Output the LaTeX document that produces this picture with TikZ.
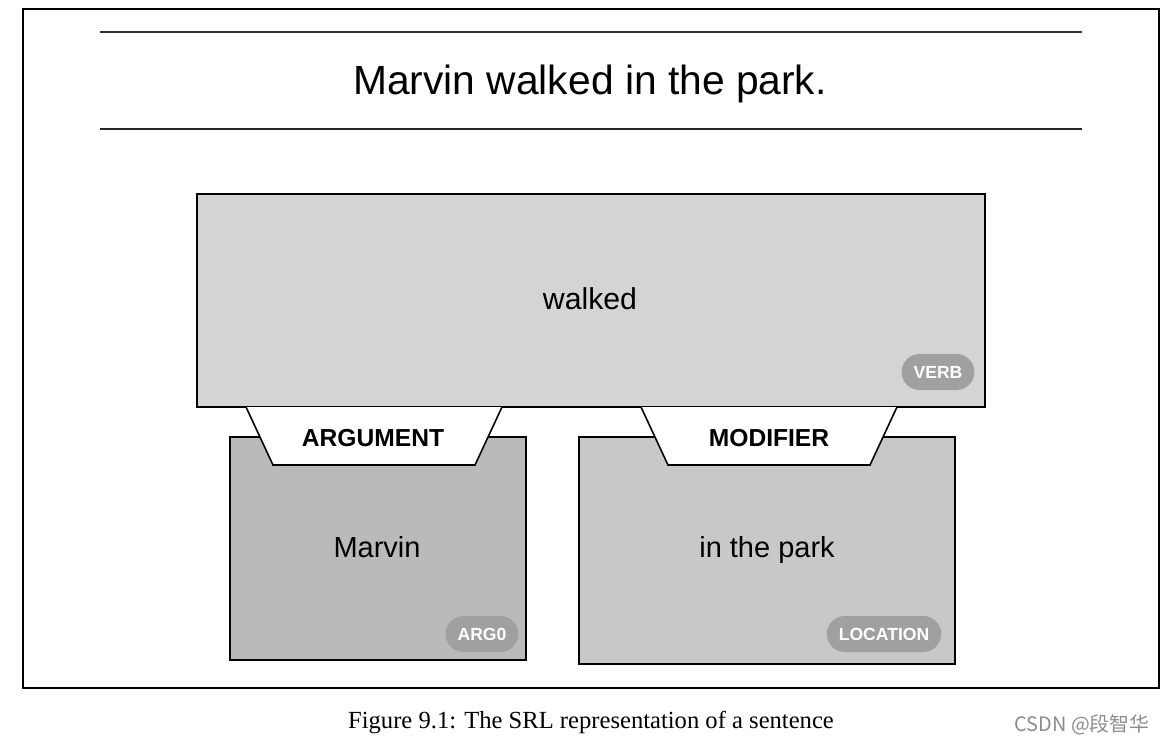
\documentclass[tikz,border=0pt]{standalone}
\usepackage{fontspec}
\setmainfont{Liberation Sans}
\newfontfamily\capfont{Liberation Serif}
\newfontfamily\cjk{Noto Sans CJK SC}
\definecolor{verbgray}{HTML}{D4D4D4}
\definecolor{arggray}{HTML}{BABABA}
\definecolor{modgray}{HTML}{C8C8C8}
\definecolor{badgegray}{HTML}{A0A0A0}
\tikzset{
  rolebox/.style={draw=black, line width=0.9pt},
  badge/.style={fill=badgegray, text=white, font=\bfseries\fontsize{10}{12}\selectfont,
    rounded corners=0.36cm, minimum height=0.72cm, inner xsep=0.24cm},
  tag/.style={draw=black, fill=white, line width=0.9pt},
  word/.style={font=\fontsize{16.5}{19}\selectfont},
}
\begin{document}
\begin{tikzpicture}[x=0.02cm, y=-0.02cm]
  \useasboundingbox (0,0) rectangle (1163,744);
  % frame and title
  \draw[line width=0.8pt] (23,9) rectangle (1159,688);
  \draw[line width=1.1pt, black!80] (100,32) -- (1082,32);
  \draw[line width=1.1pt, black!85] (100,129) -- (1082,129);
  \node[font=\fontsize{23.2}{27}\selectfont] (title) at (590,84) {Marvin walked in the park.};
  % verb
  \draw[rolebox, fill=verbgray] (197,194) rectangle (985,407);
  \node[word, font=\fontsize{17.2}{20}\selectfont] (verb) at (590,299) {walked};
  \node[badge] (verbtag) at (938,372) {VERB};
  % argument
  \draw[rolebox, fill=arggray] (230,437) rectangle (526,660);
  \node[word] (arg) at (377,547) {Marvin};
  \node[badge] (argtag) at (482,634) {ARG0};
  \draw[tag] (246,407) -- (273,465) -- (475,465) -- (502,407);
  \node[font=\bfseries\fontsize{14}{16}\selectfont] (arglbl) at (373,438) {ARGUMENT};
  % modifier
  \draw[rolebox, fill=modgray] (579,437) rectangle (955,664);
  \node[word] (mod) at (767,550) {in the park};
  \node[badge] (modtag) at (884,634) {LOCATION};
  \draw[tag] (641,407) -- (668,465) -- (870,465) -- (897,407);
  \node[font=\bfseries\fontsize{14}{16}\selectfont] (modlbl) at (769,438) {MODIFIER};
  % caption
  \node[font=\capfont\fontsize{14}{17}\selectfont] (caption) at (591,722) {Figure 9.1: The SRL representation of a sentence};
  \node[text=black!45, font=\cjk\fontsize{11.3}{14}\selectfont] (mark) at (1082,725) {CSDN @段智华};
\end{tikzpicture}
\end{document}
